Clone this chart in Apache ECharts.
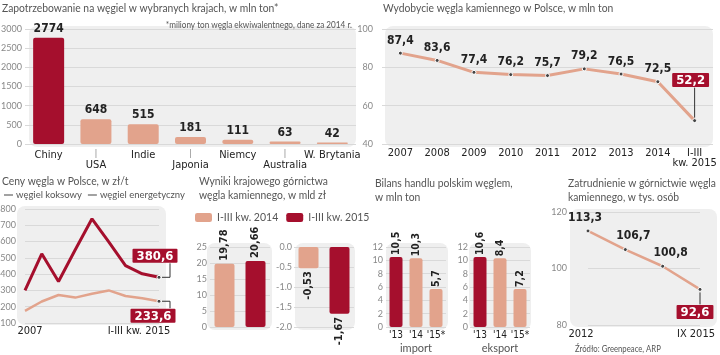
<!DOCTYPE html>
<html><head><meta charset="utf-8">
<script src="https://cdn.jsdelivr.net/npm/echarts@6/dist/echarts.min.js"></script>
<style>html,body{margin:0;padding:0;background:#fff}#c{width:720px;height:355px}</style>
</head><body><div id="c"></div>
<script>
// ---- data ----
const countries = ['Chiny', 'USA', 'Indie', 'Japonia', 'Niemcy', 'Australia', 'W. Brytania'];
const demand = [2774, 648, 515, 181, 111, 63, 42];

const years = ['2007', '2008', '2009', '2010', '2011', '2012', '2013', '2014', 'I-III\nkw. 2015'];
const output = [87.4, 83.6, 77.4, 76.2, 75.7, 79.2, 76.5, 72.5, 52.2];

const priceCats = ['2007', '2008', '2009', '2010', '2011', '2012', '2013', '2014', 'I-III kw. 2015'];
const coking = [300, 525, 355, 550, 740, 598, 452, 402, 380.6];
const steam = [175, 232, 272, 256, 280, 300, 266, 252, 233.6];

const resultNames = ['I-III kw. 2014', 'I-III kw. 2015'];
const revenue = [19.78, 20.66];
const netResult = [-0.53, -1.67];

const tradeCats = ["'13", "'14", "'15*"];
const importVals = [10.5, 10.3, 5.7];
const exportBars = [10.5, 10.3, 5.7];        // bar heights as drawn in the picture
const exportLabels = ['10,6', '8,4', '7,2']; // printed values

const empCats = ['2012', '2013', '2014', 'IX 2015'];
const employment = [113.3, 106.7, 100.8, 92.6];

const titleTexts = [
  'Zapotrzebowanie na węgiel w wybranych krajach, w mln ton*',
  '*miliony ton węgla ekwiwalentnego, dane za 2014 r.',
  'Wydobycie węgla kamiennego w Polsce, w mln ton',
  'Ceny węgla w Polsce, w zł/t',
  'Wyniki krajowego górnictwa\nwęgla kamiennego, w mld zł',
  'Bilans handlu polskim węglem,\nw mln ton',
  'Zatrudnienie w górnictwie węgla\nkamiennego, w tys. osób',
  'Źródło: Greenpeace, ARP'
];

// ---- styles ----
const DARK = '#A50F2D', SALMON = '#E2A38C', GRIDC = '#d9d9d9', BG = '#efefef';
const LIGHT = "Lato,'Liberation Sans',sans-serif";
const COND = "'DejaVu Sans Condensed','DejaVu Sans',sans-serif";
const fmt1 = v => v.toFixed(1).replace('.', ',');
const fmt2 = v => v.toFixed(2).replace('.', ',');
const valLabel = (size) => ({ color: '#222', fontWeight: 'bold', fontSize: size, fontFamily: COND });
const boxLabel = { color: '#fff', backgroundColor: DARK, fontWeight: 'bold', fontSize: 13, fontFamily: COND, padding: [1, 4, 0, 4], borderRadius: 1 };

const chart = echarts.init(document.getElementById('c'), null, { renderer: 'canvas' });

const grids = [
  { left: 25, top: 29, width: 331, height: 115 },
  { left: 382, top: 29, width: 331, height: 115 },
  { left: 25, top: 209, width: 134, height: 114 },
  { left: 210, top: 247, width: 60, height: 80 },
  { left: 294, top: 247, width: 60, height: 80 },
  { left: 386, top: 247, width: 60, height: 80 },
  { left: 470, top: 247, width: 60, height: 80 },
  { left: 588, top: 212, width: 112, height: 113 }
].map(g => Object.assign({ outerBoundsMode: 'none', containLabel: false, show: false }, g));

function yAx(gi, min, max, interval, margin, fmt) {
  return {
    type: 'value', gridIndex: gi, min, max, interval,
    axisLine: { show: false }, axisTick: { show: false },
    splitLine: { show: true, lineStyle: { color: GRIDC, width: 1 } },
    axisLabel: { margin, color: '#888', fontSize: 9, fontFamily: LIGHT, formatter: fmt || (v => String(v)) }
  };
}
function xAx(gi, data, extra) {
  return Object.assign({
    type: 'category', gridIndex: gi, data,
    axisLine: { show: false }, axisTick: { show: false }, splitLine: { show: false }
  }, extra);
}
const catLabel = { color: '#222', fontSize: 11, fontFamily: COND, interval: 0, hideOverlap: false };

const option = {
  animation: false,
  backgroundColor: '#fff',
  grid: grids,
  legend: [
    {
      left: 2, top: 190, padding: 0, itemGap: 4, itemWidth: 11, itemHeight: 3, icon: 'rect',
      data: ['węgiel koksowy', 'węgiel energetyczny'],
      textStyle: { color: '#555', fontSize: 9.5, fontFamily: LIGHT, padding: [0, 0, 0, -3] }
    },
    {
      left: 195, top: 212, padding: 0, itemGap: 8, itemWidth: 17, itemHeight: 9, icon: 'roundRect',
      data: resultNames,
      textStyle: { color: '#555', fontSize: 10.5, fontFamily: LIGHT }
    }
  ],
  xAxis: [
    xAx(0, countries, {
      axisLabel: Object.assign({}, catLabel, {
        margin: 5,
        formatter: (v, i) => i % 2 ? '{t||}\n{l|' + v + '}' : '{l|' + v + '}',
        rich: { t: { color: '#777', fontSize: 8, lineHeight: 10 }, l: { fontSize: 11, lineHeight: 12, color: '#222', fontFamily: COND } }
      })
    }),
    xAx(1, years, { axisLabel: Object.assign({}, catLabel, { margin: 4, lineHeight: 10 }) }),
    xAx(2, priceCats, {
      boundaryGap: false,
      axisLabel: Object.assign({}, catLabel, {
        margin: 3,
        formatter: (v, i) => i === 0 ? '{a|' + v + '}' : (i === priceCats.length - 1 ? '{b|' + v + '}' : ''),
        rich: { a: { padding: [0, 0, 0, 10], fontSize: 11, fontFamily: COND, color: '#222' }, b: { padding: [0, 40, 0, 0], fontSize: 11, fontFamily: COND, color: '#222' } }
      })
    }),
    xAx(3, ['w'], { axisLabel: { show: false } }),
    xAx(4, ['w'], { axisLabel: { show: false } }),
    xAx(5, tradeCats, { name: 'import', nameLocation: 'middle', nameGap: 16, nameTextStyle: { color: '#555', fontSize: 11, fontFamily: LIGHT }, axisLabel: Object.assign({}, catLabel, { margin: 3, fontSize: 10, color: '#222' }) }),
    xAx(6, tradeCats, { name: 'eksport', nameLocation: 'middle', nameGap: 16, nameTextStyle: { color: '#555', fontSize: 11, fontFamily: LIGHT }, axisLabel: Object.assign({}, catLabel, { margin: 3, fontSize: 10, color: '#222' }) }),
    xAx(7, empCats, {
      boundaryGap: false,
      axisLabel: Object.assign({}, catLabel, {
        margin: 4,
        formatter: (v, i) => i === 0 ? '{a|' + v + '}' : (i === empCats.length - 1 ? '{b|' + v + '}' : ''),
        rich: { a: { padding: [0, 14, 0, 0], fontSize: 11, fontFamily: COND, color: '#222' }, b: { padding: [0, 8, 0, 0], fontSize: 11, fontFamily: COND, color: '#222' } }
      })
    })
  ],
  yAxis: [
    yAx(0, 0, 3000, 500, 3),
    yAx(1, 40, 100, 20, 9),
    yAx(2, 100, 800, 100, 9),
    yAx(3, 0, 25, 5, 3),
    yAx(4, -2, 0, 0.5, 2, v => v.toFixed(1)),
    yAx(5, 0, 12, 2, 3),
    yAx(6, 0, 12, 2, 2),
    yAx(7, 80, 120, 20, 21)
  ],
  series: [
    {
      type: 'bar', name: 'demand', xAxisIndex: 0, yAxisIndex: 0, barWidth: 31, z: 3,
      data: demand.map((v, i) => ({ value: v, itemStyle: { color: i === 0 ? DARK : SALMON } })),
      itemStyle: { borderRadius: 2 },
      label: Object.assign({ show: true, position: 'top', distance: 3, formatter: p => String(p.value) }, valLabel(12))
    },
    {
      type: 'line', name: 'output', xAxisIndex: 1, yAxisIndex: 1, z: 3,
      data: output.map((v, i) => i === output.length - 1
        ? { value: v, label: Object.assign({ position: 'top', distance: 31, offset: [-4, 0] }, boxLabel) }
        : v),
      lineStyle: { color: SALMON, width: 3 },
      symbol: 'circle', symbolSize: 4, itemStyle: { color: '#444', borderColor: '#fff', borderWidth: 1 },
      label: Object.assign({ show: true, position: 'top', distance: 4, formatter: p => fmt1(p.value) }, valLabel(12))
    },
    {
      type: 'line', name: 'węgiel koksowy', xAxisIndex: 2, yAxisIndex: 2, z: 3,
      data: coking.map((v, i) => i === coking.length - 1
        ? { value: v, symbol: 'circle', symbolSize: 4, label: Object.assign({ show: true, position: 'top', distance: 12, offset: [-4, 0], formatter: p => fmt1(p.value) }, boxLabel) }
        : { value: v, symbol: 'none' }),
      lineStyle: { color: DARK, width: 3 }, color: DARK,
      itemStyle: { color: '#444', borderColor: '#fff', borderWidth: 1 },
      label: { show: false }
    },
    {
      type: 'line', name: 'węgiel energetyczny', xAxisIndex: 2, yAxisIndex: 2, z: 3,
      data: steam.map((v, i) => i === steam.length - 1
        ? { value: v, symbol: 'circle', symbolSize: 4, label: Object.assign({ show: true, position: 'bottom', distance: 5, offset: [-6, 0], formatter: p => fmt1(p.value) }, boxLabel) }
        : { value: v, symbol: 'none' }),
      lineStyle: { color: SALMON, width: 2.5 }, color: SALMON,
      itemStyle: { color: '#444', borderColor: '#fff', borderWidth: 1 },
      label: { show: false }
    },
    {
      type: 'bar', name: resultNames[0], xAxisIndex: 3, yAxisIndex: 3, barWidth: 20, barGap: '55%', z: 3,
      data: [revenue[0]], itemStyle: { color: SALMON, borderRadius: 2 },
      label: Object.assign({ show: true, position: 'top', rotate: 90, align: 'left', verticalAlign: 'middle', distance: 3, formatter: p => fmt2(p.value) }, valLabel(11))
    },
    {
      type: 'bar', name: resultNames[1], xAxisIndex: 3, yAxisIndex: 3, barWidth: 20, barGap: '55%', z: 3,
      data: [revenue[1]], itemStyle: { color: DARK, borderRadius: 2 },
      label: Object.assign({ show: true, position: 'top', rotate: 90, align: 'left', verticalAlign: 'middle', distance: 3, formatter: p => fmt2(p.value) }, valLabel(11))
    },
    {
      type: 'bar', name: resultNames[0], xAxisIndex: 4, yAxisIndex: 4, barWidth: 20, barGap: '55%', z: 3,
      data: [netResult[0]], itemStyle: { color: SALMON, borderRadius: 2 },
      label: Object.assign({ show: true, position: 'bottom', rotate: 90, align: 'right', verticalAlign: 'middle', distance: 3, formatter: p => fmt2(p.value) }, valLabel(11))
    },
    {
      type: 'bar', name: resultNames[1], xAxisIndex: 4, yAxisIndex: 4, barWidth: 20, barGap: '55%', z: 3,
      data: [netResult[1]], itemStyle: { color: DARK, borderRadius: 2 },
      label: Object.assign({ show: true, position: 'bottom', rotate: 90, align: 'right', verticalAlign: 'middle', distance: 3, formatter: p => fmt2(p.value) }, valLabel(11))
    },
    {
      type: 'bar', name: 'import', xAxisIndex: 5, yAxisIndex: 5, barWidth: 13, z: 3,
      data: importVals.map((v, i) => ({ value: v, itemStyle: { color: i === 0 ? DARK : SALMON } })),
      itemStyle: { borderRadius: 2 },
      label: Object.assign({ show: true, position: 'top', rotate: 90, align: 'left', verticalAlign: 'middle', distance: 2, formatter: p => fmt1(p.value) }, valLabel(10.5))
    },
    {
      type: 'bar', name: 'eksport', xAxisIndex: 6, yAxisIndex: 6, barWidth: 13, z: 3,
      data: exportBars.map((v, i) => ({ value: v, itemStyle: { color: i === 0 ? DARK : SALMON } })),
      itemStyle: { borderRadius: 2 },
      label: Object.assign({ show: true, position: 'top', rotate: 90, align: 'left', verticalAlign: 'middle', distance: 2, formatter: p => exportLabels[p.dataIndex] }, valLabel(10.5))
    },
    {
      type: 'line', name: 'employment', xAxisIndex: 7, yAxisIndex: 7, z: 3,
      data: employment.map((v, i) => {
        if (i === employment.length - 1) return { value: v, label: Object.assign({ position: 'bottom', distance: 13, offset: [-5, 0] }, boxLabel) };
        if (i === 0) return { value: v, label: { offset: [-3, 0] } };
        return v;
      }),
      lineStyle: { color: SALMON, width: 2.5 },
      symbol: 'circle', symbolSize: 4, itemStyle: { color: '#444', borderColor: '#fff', borderWidth: 1 },
      label: Object.assign({ show: true, position: 'top', distance: 5, offset: [8, 0], formatter: p => fmt1(p.value) }, valLabel(12))
    }
  ]
};
chart.setOption(option);

// titles as (horizontally condensed) text, decorative panel backgrounds, leader lines from the scales
const titlePos = [
  { x: 2, y: 1, size: 12 },
  { x: 352, y: 18, size: 9.5, align: 'right' },
  { x: 383, y: 1, size: 12 },
  { x: 2, y: 174, size: 12 },
  { x: 199, y: 174, size: 12 },
  { x: 375, y: 176, size: 12 },
  { x: 568, y: 176, size: 12 },
  { x: 575, y: 342, size: 9 }
];
const elements = titleTexts.map((t, i) => ({
  type: 'text', id: 'title' + i, silent: true, z: 5,
  x: titlePos[i].x, y: titlePos[i].y, scaleX: 0.86,
  style: {
    text: t, fill: '#555', font: 'normal ' + titlePos[i].size + 'px ' + LIGHT,
    align: titlePos[i].align || 'left', verticalAlign: 'top', lineHeight: 14
  }
}));
const bgRects = [
  [29, 26, 327, 121], [385, 26, 328, 121], [17, 206, 149, 119],
  [207, 243, 65, 87], [295, 243, 60, 87], [386, 243, 62, 87], [469, 243, 62, 87], [570, 209, 147, 118]
];
const px = (gi, x, y) => chart.convertToPixel({ gridIndex: gi }, [x, y]);
bgRects.forEach((r, i) => elements.push({
  type: 'rect', id: 'bg' + i, silent: true, z: -1,
  shape: { x: r[0], y: r[1], width: r[2], height: r[3], r: 8 },
  style: { fill: BG }
}));
const lineStyle = { stroke: '#333', lineWidth: 1, fill: null };
const pOut = px(1, output.length - 1, output[output.length - 1]);
elements.push({ type: 'polyline', id: 'l1', silent: true, z: 10, shape: { points: [[pOut[0], pOut[1] - 3], [pOut[0], pOut[1] - 33]] }, style: lineStyle });
const pCok = px(2, coking.length - 1, coking[coking.length - 1]);
elements.push({ type: 'polyline', id: 'l2', silent: true, z: 10, shape: { points: [[pCok[0] + 3, pCok[1]], [pCok[0] + 11, pCok[1]], [pCok[0] + 11, pCok[1] - 14]] }, style: lineStyle });
const pSt = px(2, steam.length - 1, steam[steam.length - 1]);
elements.push({ type: 'polyline', id: 'l3', silent: true, z: 10, shape: { points: [[pSt[0] + 3, pSt[1]], [pSt[0] + 11, pSt[1]], [pSt[0] + 11, pSt[1] + 7]] }, style: lineStyle });
const pEmp = px(7, employment.length - 1, employment[employment.length - 1]);
elements.push({ type: 'polyline', id: 'l4', silent: true, z: 10, shape: { points: [[pEmp[0], pEmp[1] + 3], [pEmp[0], pEmp[1] + 15]] }, style: lineStyle });
chart.setOption({ graphic: { elements } });
</script>
</body></html>
